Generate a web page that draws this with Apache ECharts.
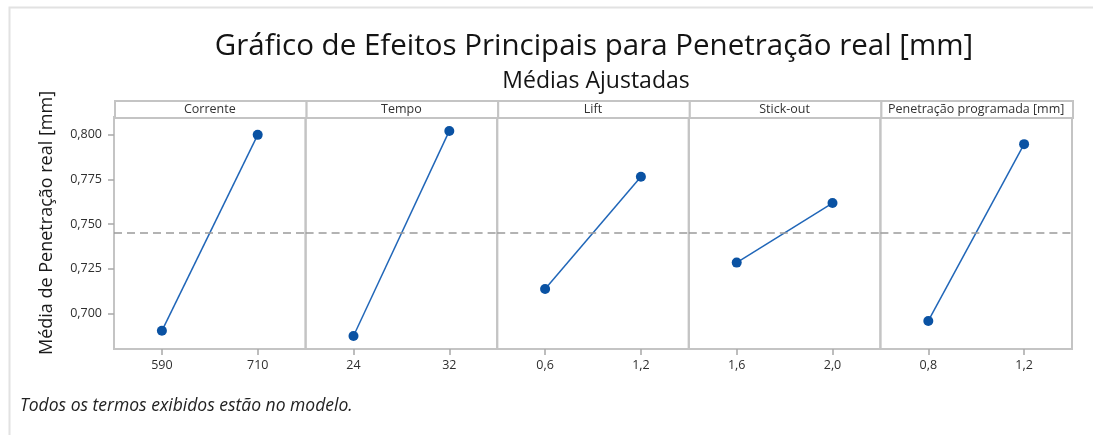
<!DOCTYPE html>
<html>
<head>
<meta charset="utf-8">
<style>
  html, body { margin: 0; padding: 0; background: #ffffff; }
  #chart { width: 1093px; height: 435px; }
</style>
<script src="https://cdn.jsdelivr.net/npm/echarts@6/dist/echarts.min.js"></script>
</head>
<body>
<div id="chart"></div>
<script>
// Main effects: fitted means of "Penetração real [mm]" at the low and high level of each factor
const factorNames = ['Corrente', 'Tempo', 'Lift', 'Stick-out', 'Penetração programada [mm]'];
const levelLabels = [
  ['590', '710'],
  ['24', '32'],
  ['0,6', '1,2'],
  ['1,6', '2,0'],
  ['0,8', '1,2']
];
const lowLevelMeans  = [0.6902, 0.6873, 0.7136, 0.7284, 0.6957];
const highLevelMeans = [0.8000, 0.8022, 0.7765, 0.7618, 0.7948];
const grandMean = 0.745;
const yTicks = [0.700, 0.725, 0.750, 0.775, 0.800];
const yMin = 0.680;
const yMax = 0.810;

const titleText = 'Gráfico de Efeitos Principais para Penetração real [mm]';
const subtitleText = 'Médias Ajustadas';
const yAxisTitle = 'Média de Penetração real [mm]';
const footnote = 'Todos os termos exibidos estão no modelo.';

// Panel layout
const panelLeft = 114;
const panelWidth = 191.6;
const plotTop = 117;
const plotHeight = 232;
const stripTop = 100;
const stripHeight = 17;
const frameColor = '#c4c4c4';
const font = '"Open Sans", "Noto Sans", sans-serif';

const fmt = v => v.toFixed(3).replace('.', ',');

const grids = [], xAxes = [], yAxes = [], series = [], graphics = [];

factorNames.forEach((name, i) => {
  const left = panelLeft + i * panelWidth;
  grids.push({
    left: left, top: plotTop, width: panelWidth, height: plotHeight,
    show: true, borderColor: frameColor, borderWidth: 2, backgroundColor: 'transparent'
  });
  xAxes.push({
    type: 'category', gridIndex: i, data: levelLabels[i], boundaryGap: true,
    axisLine: { show: false },
    axisTick: { show: true, alignWithLabel: true, length: 6, lineStyle: { color: '#a8a8a8', width: 1.5 } },
    axisLabel: { color: '#2e2e2e', fontSize: 12.5, fontFamily: font, margin: 10 },
    splitLine: { show: false }
  });
  // fine interval keeps the mean reference line at full precision; visible ticks come from yTicks
  yAxes.push({
    type: 'value', gridIndex: i, min: yMin, max: yMax, interval: 0.005,
    axisLine: { show: false },
    axisTick: i === 0
      ? { show: true, customValues: yTicks, length: 6, lineStyle: { color: '#a8a8a8', width: 1.5 } }
      : { show: false },
    axisLabel: i === 0
      ? { show: true, customValues: yTicks, formatter: v => fmt(v), color: '#2e2e2e', fontSize: 12.5, fontFamily: font, margin: 12 }
      : { show: false },
    splitLine: { show: false }
  });
  series.push({
    type: 'line', xAxisIndex: i, yAxisIndex: i,
    data: [lowLevelMeans[i], highLevelMeans[i]],
    symbol: 'circle', symbolSize: 10,
    lineStyle: { color: '#2066b8', width: 1.5 },
    itemStyle: { color: '#0a52a3' },
    animation: false,
    markLine: {
      silent: true, symbol: 'none', animation: false, precision: 4,
      label: { show: false },
      lineStyle: { color: '#9a9a9a', type: [8, 5], width: 1.5 },
      data: [{ yAxis: grandMean }]
    }
  });
  // factor strip above each panel
  graphics.push({
    type: 'rect', left: left, top: stripTop,
    shape: { width: panelWidth, height: stripHeight },
    style: { fill: '#ffffff', stroke: frameColor, lineWidth: 2 }
  });
  graphics.push({
    type: 'text', x: left + panelWidth / 2, y: stripTop + stripHeight / 2 + 0.5,
    style: { text: name, fill: '#333333', font: '12.5px ' + font, textAlign: 'center', textVerticalAlign: 'middle' }
  });
});

// light page frame
graphics.push({
  type: 'rect', left: 7, top: 5,
  shape: { width: 1200, height: 600 },
  style: { fill: 'none', stroke: '#e2e2e2', lineWidth: 2 }
});
// y-axis title
graphics.push({
  type: 'text', x: 47, y: 223, rotation: Math.PI / 2,
  style: { text: yAxisTitle, fill: '#1a1a1a', font: '18px ' + font, textAlign: 'center', textVerticalAlign: 'middle' }
});
// footnote
graphics.push({
  type: 'text', x: 20, y: 406,
  style: { text: footnote, fill: '#222222', font: 'italic 17.5px ' + font, textAlign: 'left', textVerticalAlign: 'middle' }
});

const chart = echarts.init(document.getElementById('chart'), null, { renderer: 'canvas' });
chart.setOption({
  backgroundColor: '#ffffff',
  animation: false,
  title: [
    {
      text: titleText, left: 589, top: 27, textAlign: 'center',
      textStyle: { fontFamily: font, fontSize: 29.5, fontWeight: 'normal', color: '#141414' }
    },
    {
      text: subtitleText, left: 591, top: 65, textAlign: 'center',
      textStyle: { fontFamily: font, fontSize: 23, fontWeight: 'normal', color: '#141414' }
    }
  ],
  grid: grids,
  xAxis: xAxes,
  yAxis: yAxes,
  series: series,
  graphic: graphics
});
</script>
</body>
</html>
